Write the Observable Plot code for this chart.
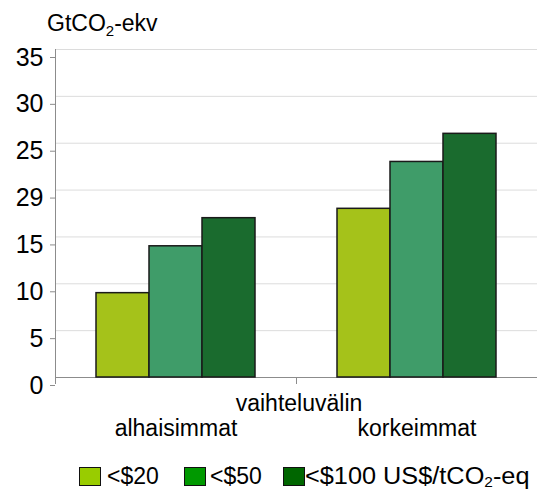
<!DOCTYPE html>
<html>
<head>
<meta charset="utf-8">
<script src="https://cdn.jsdelivr.net/npm/d3@7"></script>
<script src="https://cdn.jsdelivr.net/npm/@observablehq/plot@0.6"></script>
<style>
  html, body { margin: 0; padding: 0; background: #fff; overflow: hidden; }
  body { width: 537px; height: 492px; position: relative; font-family: "Liberation Sans", Arial, sans-serif; color: #000; }
  #title { position: absolute; left: 47px; top: 12px; font-size: 23px; line-height: 23px; white-space: nowrap; }
  #title sub { font-size: 15px; vertical-align: -5px; line-height: 0; }
  #legend sub { font-size: 14px; vertical-align: -3px; line-height: 0; }
  #chart { position: absolute; left: 0; top: 0; }
  #midlabel { position: absolute; left: 299px; top: 392px; transform: translateX(-50%); font-size: 23px; line-height: 23px; white-space: nowrap; }
  .item { position: absolute; top: 465px; display: flex; align-items: center; font-size: 23px; line-height: 23px; white-space: nowrap; }
  .sw { width: 22px; height: 19px; box-sizing: border-box; border: 1.5px solid #111; }
  .wide { display: inline-block; transform: scaleX(1.1); transform-origin: left center; }
</style>
</head>
<body>
<div id="title">GtCO<sub>2</sub>-ekv</div>
<div id="chart"></div>
<div id="midlabel"></div>
<div id="legend"></div>
<script>
// ---- data ----
const groups = ["alhaisimmat", "korkeimmat"];
const series = ["<$20", "<$50", "<$100"];
const lowValues = [9, 14, 17];
const highValues = [18, 23, 26];
const yTicks = [0, 5, 10, 15, 20, 25, 30, 35];
const yTickLabels = ["0", "5", "10", "15", "29", "25", "30", "35"];
const barColors = ["#a5c21a", "#3f9c69", "#1a6b2e"];
const legendColors = ["#99cc00", "#009900", "#006600"];
const legendLabels = ["&lt;$20", "&lt;$50", "&lt;$100 US$/tCO<sub>2</sub>-eq"];
const axisLabel = "vaihteluvälin";

const table = [];
series.forEach((s, i) => {
  table.push({group: groups[0], series: s, value: lowValues[i]});
  table.push({group: groups[1], series: s, value: highValues[i]});
});

const W = 537, H = 445, mTop = 49, mBottom = 68, mLeft = 54;
const innerH = H - mTop - mBottom;

const chart = Plot.plot({
  width: W,
  height: H,
  marginTop: mTop,
  marginBottom: mBottom,
  marginLeft: mLeft,
  marginRight: 0,
  style: {fontFamily: '"Liberation Sans", Arial, sans-serif', fontSize: "23px", color: "#000", background: "transparent", overflow: "visible"},
  fx: {domain: groups, padding: 0, label: null},
  x: {domain: series, paddingInner: 0, paddingOuter: 0.736, axis: null},
  y: {domain: [0, 35], label: null},
  color: {domain: series, range: barColors},
  marks: [
    Plot.gridY(yTicks, {stroke: "#dcdcdc", strokeOpacity: 1}),
    Plot.frame({anchor: "left", stroke: "#8c8c8c", facetAnchor: "left"}),
    Plot.frame({anchor: "left", stroke: "#8c8c8c", insetTop: innerH, insetBottom: -6}),
    Plot.ruleY([0], {stroke: "#8c8c8c"}),
    Plot.barY(table, {fx: "group", x: "series", y: "value", fill: "series", stroke: "#1a1a1a", strokeWidth: 1.5}),
    Plot.axisY(yTicks, {
      tickFormat: d => yTickLabels[yTicks.indexOf(d)],
      tickSize: 5, tickPadding: 7, stroke: "#8c8c8c", fill: "#000",
      fontSize: 25, dy: 8, label: null
    }),
    Plot.axisFx({anchor: "bottom", tickSize: 0, tickPadding: 42, fontSize: 23, fill: "#000", label: null})
  ]
});
document.getElementById("chart").appendChild(chart);
document.getElementById("midlabel").textContent = axisLabel;

const legend = document.getElementById("legend");
const itemLeft = [79, 184, 283];
const itemGap = [6, 4, 0];
legendLabels.forEach((l, i) => {
  const item = document.createElement("div");
  item.className = "item";
  item.style.left = itemLeft[i] + "px";
  const cls = i === 2 ? "wide" : "";
  item.innerHTML = `<span class="sw" style="background:${legendColors[i]};margin-right:${itemGap[i]}px"></span><span class="${cls}">${l}</span>`;
  legend.appendChild(item);
});
</script>
</body>
</html>
